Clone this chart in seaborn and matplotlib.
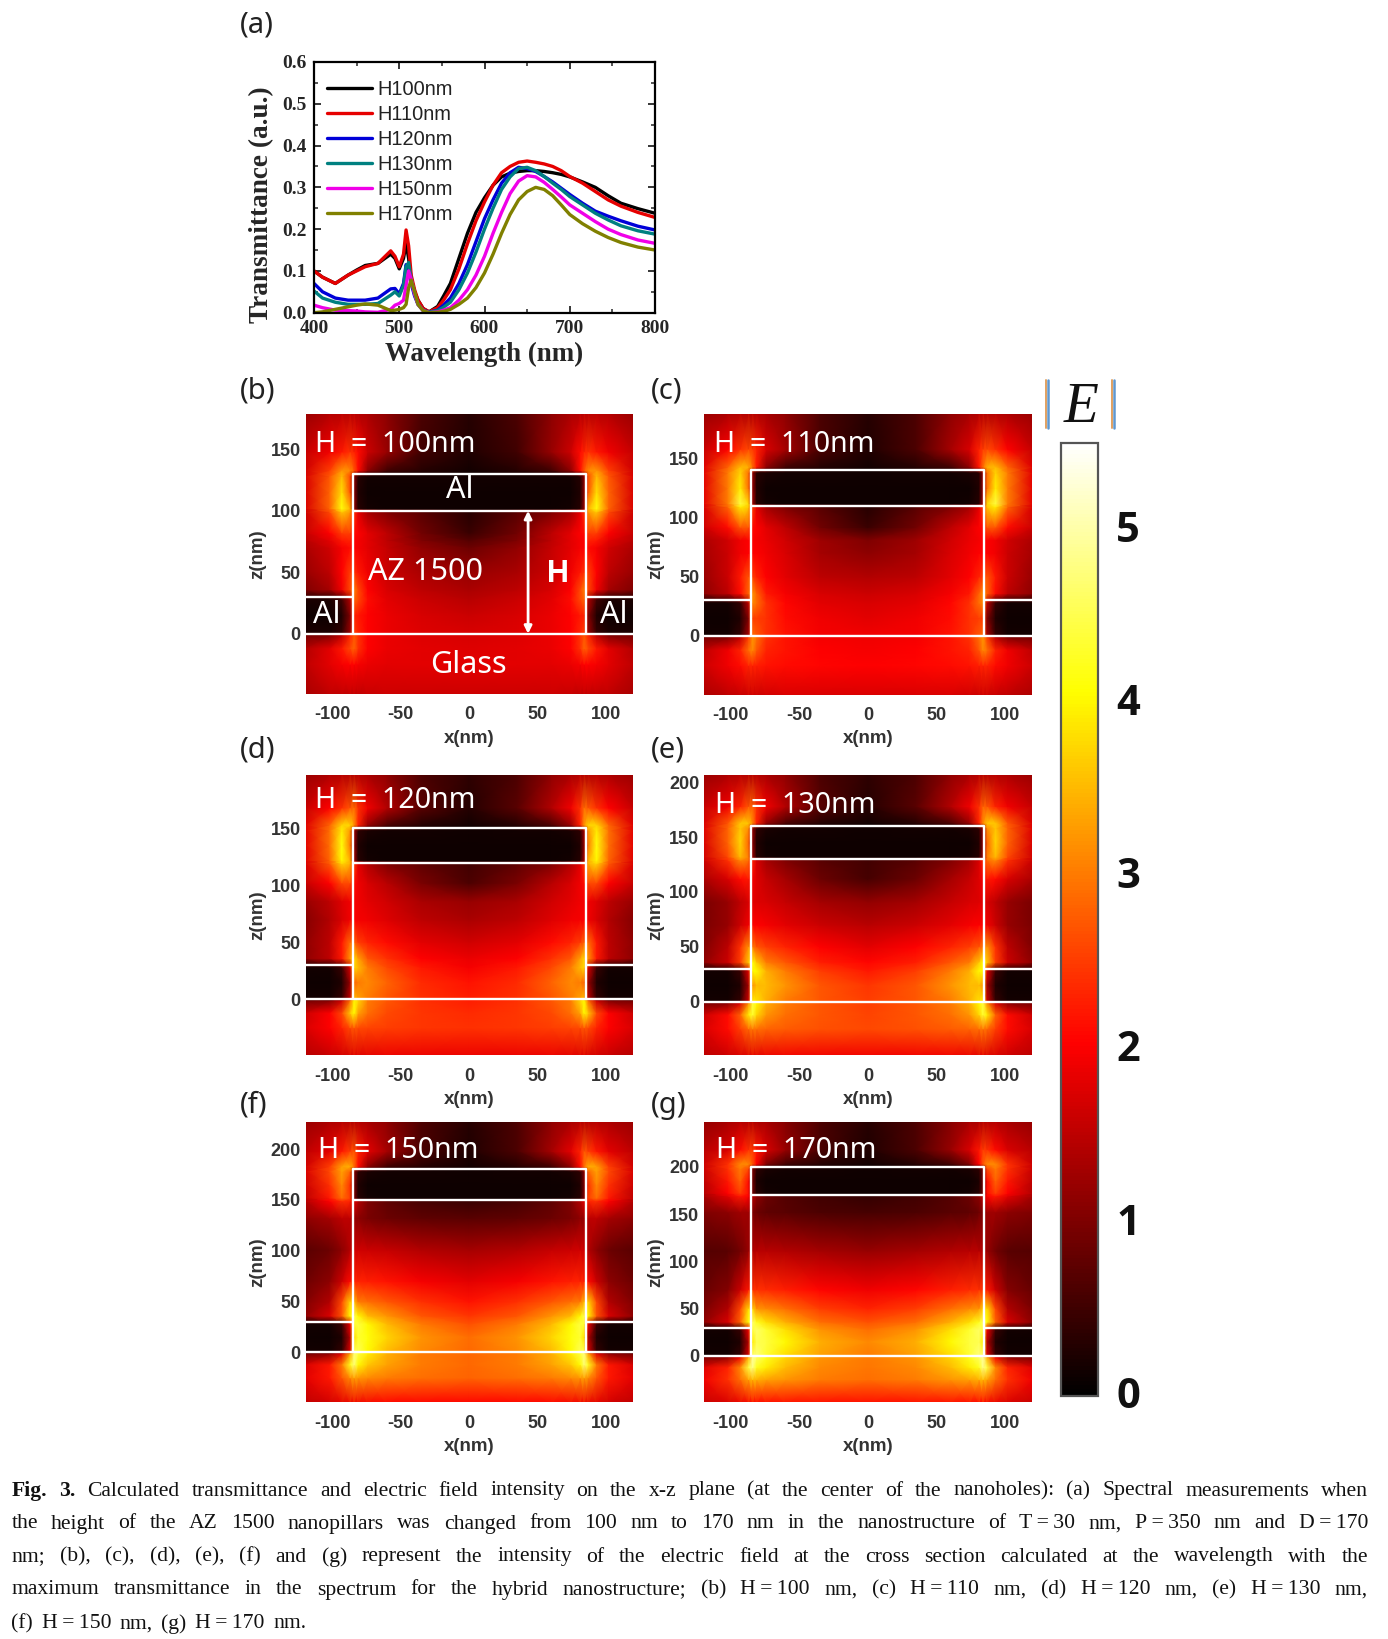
import numpy as np
import pandas as pd
import matplotlib
matplotlib.use("Agg")
import matplotlib.pyplot as plt
from matplotlib.colors import LinearSegmentedColormap, Normalize
from matplotlib.lines import Line2D
from matplotlib.cm import ScalarMappable
import seaborn as sns

W, H_PX = 1388, 1639

# spectra, panel (a)
wavelength = [400, 410, 425, 440, 450, 460, 475, 490, 495, 500, 505, 508, 511, 514, 518, 522, 528, 535, 545, 552,
              560, 570, 580, 590, 600, 610, 620, 630, 640, 650, 660, 670, 680, 690, 700, 715, 730, 745, 760, 780, 800]
h100 = [.10, .085, .07, .09, .102, .113, .118, .14, .13, .105, .13, .165, .13, .08, .05, .03, .01, .002, .015, .04,
        .07, .13, .19, .24, .275, .305, .325, .334, .338, .34, .34, .338, .335, .331, .325, .313, .30, .28, .262, .249, .238]
h110 = [.10, .085, .07, .09, .10, .11, .118, .148, .135, .11, .14, .198, .16, .09, .055, .03, .01, .002, .012, .03,
        .055, .105, .165, .22, .265, .305, .335, .35, .36, .363, .36, .356, .35, .34, .326, .31, .29, .27, .255, .24, .228]
h120 = [.07, .05, .035, .03, .03, .03, .035, .057, .058, .045, .07, .115, .105, .07, .04, .02, .006, .001, .006, .018,
        .035, .07, .115, .17, .225, .27, .31, .335, .348, .345, .338, .326, .313, .298, .283, .262, .243, .231, .22, .207, .198]
h130 = [.052, .035, .025, .02, .02, .02, .022, .042, .05, .04, .065, .11, .12, .08, .045, .02, .005, .001, .005, .013,
        .025, .055, .095, .145, .20, .25, .295, .325, .345, .348, .34, .326, .31, .295, .278, .258, .238, .222, .208, .196, .188]
h150 = [.018, .012, .006, .005, .004, .002, .001, .008, .018, .022, .03, .065, .10, .08, .045, .02, .005, 0, .002, .006,
        .012, .03, .055, .09, .135, .19, .24, .285, .315, .328, .325, .312, .295, .277, .258, .238, .218, .20, .187, .174, .166]
h170 = [0, .002, .008, .014, .018, .021, .018, .005, .006, .008, .012, .02, .06, .078, .05, .02, .005, 0, .001, .003,
        .008, .02, .035, .06, .095, .14, .19, .235, .27, .29, .30, .295, .28, .258, .235, .213, .195, .18, .168, .157, .15]
series_names = ["H100nm", "H110nm", "H120nm", "H130nm", "H150nm", "H170nm"]
series_colors = ["#000000", "#e60000", "#0000d8", "#008080", "#f000e8", "#808000"]

# |E|, at these |x| columns (one half, mirrored when drawn)
x_cols = [0, 35, 60, 74, 81, 84, 87, 93, 102, 120]

field_b = [
    [1.6, 1.6, 1.6, 1.55, 1.5, 1.5, 1.5, 1.5, 1.5, 1.3],
    [1.8, 1.8, 1.8, 1.85, 1.95, 2.0, 2.0, 1.95, 1.8, 1.5],
    [1.75, 1.8, 1.85, 2.0, 2.4, 2.8, 2.6, 2.2, 1.8, 1.4],
    [1.7, 1.75, 1.85, 2.0, 2.4, 2.7, 2.3, 1.5, 1.0, .9],
    [1.7, 1.75, 1.85, 2.0, 2.3, 2.5, 1.2, .4, .2, .2],
    [1.6, 1.7, 1.85, 2.0, 2.2, 2.3, 1.0, .25, .1, .1],
    [1.45, 1.6, 1.8, 2.1, 2.6, 2.8, 1.4, .5, .2, .2],
    [1.35, 1.5, 1.7, 2.0, 2.6, 3.0, 2.6, 1.9, 1.3, 1.0],
    [1.2, 1.35, 1.6, 1.9, 2.2, 2.4, 2.5, 2.0, 1.5, 1.2],
    [.85, 1.15, 1.55, 1.8, 1.95, 2.0, 2.1, 1.95, 1.65, 1.35],
    [.65, 1.0, 1.5, 1.8, 1.95, 2.0, 2.3, 2.2, 1.8, 1.45],
    [.45, .9, 1.5, 1.8, 2.0, 2.1, 2.5, 2.5, 2.0, 1.55],
    [.3, .7, 1.0, 1.3, 1.8, 2.4, 3.2, 3.6, 2.6, 1.6],
    [.1, .1, .1, .15, .3, 1.2, 3.4, 4.1, 2.8, 1.7],
    [.1, .1, .1, .1, .25, 1.1, 2.7, 3.8, 2.8, 1.7],
    [.15, .15, .15, .15, .3, 1.1, 2.6, 3.5, 2.7, 1.7],
    [.15, .3, .5, 1.1, 2.1, 2.7, 3.1, 3.2, 2.5, 1.65],
    [.25, .5, 1.2, 1.6, 2.1, 2.3, 2.4, 2.2, 1.9, 1.55],
    [.3, .6, 1.1, 1.35, 1.4, 1.45, 1.45, 1.45, 1.4, 1.2],
]
field_c = [
    [1.7, 1.7, 1.7, 1.65, 1.6, 1.6, 1.6, 1.55, 1.5, 1.35],
    [2.0, 2.05, 2.1, 2.15, 2.25, 2.3, 2.3, 2.1, 1.9, 1.6],
    [1.95, 2.0, 2.15, 2.3, 2.7, 3.1, 2.9, 2.3, 1.9, 1.5],
    [1.9, 1.95, 2.15, 2.4, 2.9, 3.2, 2.5, 1.5, 1.0, .9],
    [1.9, 1.95, 2.15, 2.4, 2.7, 2.9, 1.3, .4, .15, .15],
    [1.8, 1.9, 2.1, 2.4, 2.5, 2.5, 1.0, .25, .1, .1],
    [1.7, 1.8, 2.05, 2.4, 2.9, 3.1, 1.5, .4, .15, .15],
    [1.6, 1.7, 1.95, 2.2, 2.8, 3.2, 2.8, 2.1, 1.5, 1.1],
    [1.4, 1.5, 1.8, 2.0, 2.3, 2.5, 2.7, 2.2, 1.6, 1.2],
    [1.1, 1.3, 1.7, 1.9, 2.0, 2.0, 2.0, 1.9, 1.6, 1.3],
    [1.0, 1.25, 1.65, 1.85, 1.95, 2.0, 2.0, 1.9, 1.65, 1.35],
    [.45, .9, 1.5, 1.8, 2.0, 2.1, 2.7, 2.7, 2.1, 1.6],
    [.3, .7, 1.0, 1.3, 1.8, 2.5, 3.6, 3.9, 2.8, 1.7],
    [.1, .1, .1, .15, .3, 1.3, 3.7, 4.4, 3.0, 1.8],
    [.1, .1, .1, .1, .25, 1.2, 2.9, 3.9, 3.0, 1.8],
    [.12, .15, .15, .2, .3, 1.2, 2.9, 3.7, 3.0, 1.8],
    [.15, .3, .5, 1.1, 2.2, 2.9, 3.4, 3.5, 2.8, 1.75],
    [.25, .6, 1.3, 1.7, 2.3, 2.5, 2.6, 2.4, 2.0, 1.55],
    [.3, .6, 1.1, 1.3, 1.4, 1.4, 1.4, 1.4, 1.35, 1.2],
]
field_d = [
    [1.85, 1.85, 1.85, 1.8, 1.75, 1.75, 1.7, 1.65, 1.55, 1.4],
    [2.4, 2.45, 2.5, 2.55, 2.6, 2.7, 2.6, 2.3, 2.0, 1.7],
    [2.35, 2.45, 2.6, 2.9, 3.3, 4.0, 3.6, 2.6, 2.0, 1.6],
    [2.25, 2.4, 2.7, 3.0, 3.7, 4.0, 2.9, 1.6, 1.0, .9],
    [2.25, 2.4, 2.7, 3.0, 3.3, 3.5, 1.5, .4, .15, .15],
    [2.15, 2.35, 2.8, 3.1, 3.0, 2.8, 1.2, .25, .1, .1],
    [1.95, 2.2, 2.6, 3.0, 3.5, 3.7, 1.7, .45, .15, .15],
    [1.85, 2.0, 2.4, 2.7, 3.3, 3.7, 3.2, 2.2, 1.5, 1.1],
    [1.65, 1.8, 2.1, 2.3, 2.5, 2.8, 2.9, 2.2, 1.5, 1.1],
    [1.35, 1.5, 1.75, 1.9, 1.95, 2.0, 1.9, 1.7, 1.4, 1.05],
    [1.2, 1.35, 1.65, 1.8, 1.9, 1.95, 1.9, 1.75, 1.5, 1.2],
    [.6, .95, 1.45, 1.7, 1.9, 2.1, 2.6, 2.6, 2.0, 1.55],
    [.5, .75, 1.0, 1.4, 1.8, 2.5, 3.4, 3.7, 2.7, 1.7],
    [.1, .1, .1, .15, .3, 1.3, 3.4, 4.0, 2.8, 1.75],
    [.1, .1, .1, .1, .25, 1.2, 3.0, 4.1, 2.9, 1.8],
    [.12, .15, .15, .2, .35, 1.3, 3.2, 3.9, 2.9, 1.8],
    [.15, .3, .6, 1.2, 2.3, 3.2, 3.7, 3.7, 2.8, 1.75],
    [.3, .7, 1.4, 1.9, 2.4, 2.9, 2.7, 2.4, 2.0, 1.55],
    [.35, .6, 1.1, 1.3, 1.4, 1.4, 1.4, 1.4, 1.35, 1.2],
]
field_e = [
    [1.9, 1.9, 1.9, 1.85, 1.8, 1.8, 1.75, 1.7, 1.6, 1.45],
    [2.6, 2.65, 2.75, 2.8, 2.9, 2.95, 2.85, 2.5, 2.1, 1.7],
    [2.55, 2.7, 2.9, 3.2, 3.7, 4.3, 3.9, 2.8, 2.1, 1.6],
    [2.5, 2.7, 3.0, 3.4, 4.0, 4.4, 3.1, 1.7, 1.05, .9],
    [2.5, 2.7, 3.0, 3.4, 3.8, 3.9, 1.6, .4, .15, .15],
    [2.45, 2.7, 3.2, 3.5, 3.5, 3.2, 1.3, .25, .1, .1],
    [2.2, 2.5, 3.0, 3.4, 4.0, 4.0, 1.8, .45, .15, .15],
    [2.05, 2.25, 2.7, 3.0, 3.6, 4.1, 3.6, 2.5, 1.6, 1.1],
    [1.8, 2.0, 2.3, 2.5, 2.7, 3.0, 3.2, 2.4, 1.5, 1.0],
    [1.45, 1.6, 1.8, 1.95, 2.0, 2.05, 1.9, 1.6, 1.2, .95],
    [1.15, 1.3, 1.55, 1.7, 1.75, 1.8, 1.7, 1.5, 1.2, .95],
    [.55, .85, 1.3, 1.55, 1.75, 1.95, 2.2, 2.1, 1.7, 1.35],
    [.5, .7, 1.0, 1.3, 1.7, 2.3, 2.9, 3.1, 2.4, 1.6],
    [.1, .1, .1, .15, .3, 1.2, 3.0, 3.5, 2.6, 1.65],
    [.1, .1, .1, .1, .25, 1.1, 2.8, 3.7, 2.8, 1.7],
    [.12, .15, .15, .2, .35, 1.2, 3.1, 3.6, 2.8, 1.75],
    [.15, .3, .6, 1.2, 2.3, 3.1, 3.6, 3.6, 2.7, 1.7],
    [.3, .7, 1.4, 1.9, 2.4, 2.8, 2.7, 2.3, 1.9, 1.55],
    [.35, .6, 1.1, 1.3, 1.4, 1.4, 1.4, 1.4, 1.35, 1.2],
]
field_f = [
    [2.0, 2.0, 2.0, 1.95, 1.9, 1.9, 1.85, 1.8, 1.65, 1.5],
    [2.8, 2.9, 3.0, 3.1, 3.2, 3.3, 3.1, 2.7, 2.2, 1.8],
    [2.85, 3.0, 3.3, 3.6, 4.0, 4.7, 4.2, 3.0, 2.2, 1.7],
    [2.85, 3.0, 3.4, 3.9, 4.4, 4.7, 3.3, 1.8, 1.1, .9],
    [2.85, 3.1, 3.5, 4.0, 4.5, 4.5, 1.7, .4, .15, .15],
    [2.9, 3.2, 3.7, 4.1, 4.3, 3.8, 1.4, .25, .1, .1],
    [2.65, 3.0, 3.5, 4.0, 4.4, 4.3, 1.9, .45, .15, .15],
    [2.45, 2.7, 3.2, 3.5, 4.0, 4.5, 4.0, 2.7, 1.7, 1.1],
    [2.15, 2.4, 2.7, 2.9, 3.0, 3.5, 3.7, 2.6, 1.4, 1.0],
    [1.8, 1.95, 2.15, 2.25, 2.3, 2.3, 2.1, 1.6, 1.1, .85],
    [1.3, 1.4, 1.55, 1.6, 1.65, 1.65, 1.4, 1.1, .85, .7],
    [.7, .75, .85, .95, 1.1, 1.2, 1.5, 1.5, 1.3, 1.1],
    [.45, .55, .75, 1.0, 1.4, 1.8, 2.3, 2.4, 2.0, 1.4],
    [.1, .1, .1, .15, .3, 1.0, 2.5, 2.9, 2.2, 1.5],
    [.1, .1, .1, .1, .25, 1.0, 2.4, 3.1, 2.4, 1.6],
    [.12, .15, .15, .2, .35, 1.1, 2.8, 3.3, 2.6, 1.7],
    [.15, .3, .5, 1.1, 2.1, 2.9, 3.4, 3.3, 2.5, 1.65],
    [.25, .6, 1.3, 1.8, 2.3, 2.7, 2.5, 2.2, 1.8, 1.5],
    [.3, .6, 1.1, 1.3, 1.4, 1.4, 1.4, 1.4, 1.35, 1.2],
]
field_g = [
    [2.1, 2.1, 2.1, 2.05, 2.0, 2.0, 1.95, 1.85, 1.7, 1.55],
    [2.9, 3.0, 3.2, 3.3, 3.4, 3.5, 3.3, 2.9, 2.4, 1.9],
    [2.95, 3.1, 3.5, 3.9, 4.2, 4.8, 4.4, 3.1, 2.3, 1.75],
    [3.0, 3.2, 3.7, 4.2, 4.6, 4.9, 3.4, 1.9, 1.1, .9],
    [3.0, 3.3, 3.8, 4.3, 4.7, 4.6, 1.7, .4, .15, .15],
    [3.1, 3.4, 4.0, 4.4, 4.5, 3.9, 1.4, .25, .1, .1],
    [2.9, 3.2, 3.8, 4.3, 4.6, 4.4, 1.9, .45, .15, .15],
    [2.65, 2.9, 3.4, 3.8, 4.2, 4.6, 4.1, 2.8, 1.7, 1.1],
    [2.3, 2.5, 2.9, 3.1, 3.2, 3.7, 3.8, 2.6, 1.4, .95],
    [1.9, 2.05, 2.25, 2.35, 2.4, 2.4, 2.2, 1.6, 1.05, .8],
    [1.2, 1.3, 1.4, 1.45, 1.45, 1.4, 1.2, .9, .7, .65],
    [.55, .6, .7, .75, .85, 1.0, 1.25, 1.25, 1.1, 1.0],
    [.4, .5, .65, .85, 1.1, 1.5, 2.0, 2.2, 1.8, 1.3],
    [.1, .1, .1, .15, .3, .9, 2.1, 2.5, 2.0, 1.4],
    [.1, .1, .1, .1, .2, .9, 2.1, 2.8, 2.2, 1.5],
    [.12, .15, .15, .2, .35, 1.0, 2.6, 3.0, 2.4, 1.6],
    [.15, .3, .5, 1.0, 2.0, 2.7, 3.1, 3.1, 2.4, 1.6],
    [.25, .6, 1.2, 1.7, 2.2, 2.5, 2.4, 2.1, 1.7, 1.45],
    [.3, .6, 1.05, 1.3, 1.35, 1.4, 1.4, 1.4, 1.3, 1.15],
]

caption_lines = [
    "Calculated transmittance and electric field intensity on the x-z plane (at the center of the nanoholes): (a) Spectral measurements when",
    "the height of the AZ 1500 nanopillars was changed from 100 nm to 170 nm in the nanostructure of T\u2009=\u200930 nm, P\u2009=\u2009350 nm and D\u2009=\u2009170",
    "nm; (b), (c), (d), (e), (f) and (g) represent the intensity of the electric field at the cross section calculated at the wavelength with the",
    "maximum transmittance in the spectrum for the hybrid nanostructure; (b) H\u2009=\u2009100 nm, (c) H\u2009=\u2009110 nm, (d) H\u2009=\u2009120 nm, (e) H\u2009=\u2009130 nm,",
    "(f) H\u2009=\u2009150 nm, (g) H\u2009=\u2009170 nm.",
]

sns.set_theme(style="white")
plt.rcParams["font.family"] = ["Liberation Sans", "DejaVu Sans"]
plt.rcParams["axes.unicode_minus"] = False

fig = plt.figure(figsize=(W / 100, H_PX / 100), dpi=100)
field_cmap = LinearSegmentedColormap.from_list(
    "field", [(0, "#000000"), (0.37, "#ff0000"), (0.74, "#ffff00"), (1, "#ffffff")])
field_norm = Normalize(vmin=-0.02, vmax=5.48)


def axes_px(left, top, right, bottom):
    return fig.add_axes([left / W, 1 - bottom / H_PX, (right - left) / W, (bottom - top) / H_PX])


def text_px(x, y, s, **kw):
    kw.setdefault("va", "center")
    return fig.text(x / W, 1 - y / H_PX, s, **kw)


# Transmittance spectra
def plot_spectra():
    ax = axes_px(314, 62, 655, 312.7)
    frames = []
    for name, vals in zip(series_names, [h100, h110, h120, h130, h150, h170]):
        frames.append(pd.DataFrame({"wl": wavelength, "T": vals, "height": name}))
    df = pd.concat(frames)
    sns.lineplot(data=df, x="wl", y="T", hue="height", palette=series_colors,
                 linewidth=2.4, ax=ax, errorbar=None)
    ax.set_xlim(400, 800)
    ax.set_ylim(0, 0.6)
    ax.set_xticks([400, 500, 600, 700, 800])
    ax.set_xticks([450, 550, 650, 750], minor=True)
    ax.set_yticks(np.arange(0, 0.61, 0.1))
    ax.set_yticks(np.arange(0.05, 0.6, 0.1), minor=True)
    ax.tick_params(which="major", direction="in", length=5, width=1.3, top=True, right=True,
                   bottom=True, left=True, labelsize=14, pad=5)
    ax.tick_params(which="minor", direction="in", length=3, width=1.1, top=True, right=True,
                   bottom=True, left=True)
    for lab in ax.get_xticklabels() + ax.get_yticklabels():
        lab.set_family("Liberation Serif")
        lab.set_fontweight("bold")
    for spine in ax.spines.values():
        spine.set_visible(True)
        spine.set_color("black")
        spine.set_linewidth(1.6)
    ax.set_xlabel("")
    ax.set_ylabel("")
    text_px(484, 354, "Wavelength (nm)", family="Liberation Serif", weight="bold", size=19.4, ha="center")
    text_px(262, 205, "Transmittance (a.u.)", family="Liberation Serif", weight="bold", size=19.6,
            ha="center", rotation=90)
    ax.legend(loc="upper left", bbox_to_anchor=(0.025, 0.943), frameon=False, fontsize=14.4,
              handlelength=2.25, handletextpad=0.28, labelspacing=0.3, borderpad=0.2, borderaxespad=0,
              labelcolor="#222222")


# One field map with the outline of the nanostructure
def plot_field(field, height, rect, zlim, zticks, title_xy):
    ax = axes_px(*rect)
    table = np.array(field)
    mirrored = np.hstack([table[:, :0:-1], table])
    x = np.array(x_cols, dtype=float)
    x = np.concatenate([-x[:0:-1], x])
    z = [-51, -25, -12, -1, 1, 15, 28, 36, 50, 70, (52 + height) / 2, height - 18, height - 1,
         height + 2, height + 15, height + 28, height + 33, height + 48, zlim[1] + 1]
    ax.pcolormesh(x, z, mirrored, cmap=field_cmap, norm=field_norm, shading="gouraud", rasterized=True)
    ax.set_xlim(-119.4, 119.4)
    ax.set_ylim(*zlim)

    # white outline of the Al parts and the pillar
    white = dict(color="white", lw=1.7, solid_capstyle="butt")
    ax.plot([-120, 120], [0, 0], **white)
    ax.plot([-85, -85, 85, 85], [0, height + 30, height + 30, 0], **white)
    ax.plot([-85, 85], [height, height], **white)
    ax.plot([-120, -85], [30, 30], **white)
    ax.plot([85, 120], [30, 30], **white)

    for spine in ax.spines.values():
        spine.set_visible(False)
    ax.set_xticks([-100, -50, 0, 50, 100])
    ax.set_yticks(zticks)
    ax.tick_params(length=0, labelsize=13, labelcolor="#333333", pad=3.5)
    ax.tick_params(axis="x", pad=9)
    for lab in ax.get_xticklabels() + ax.get_yticklabels():
        lab.set_fontweight("bold")
    ax.set_xlabel("x(nm)", fontsize=13.5, fontweight="bold", color="#333333")
    ax.set_ylabel("z(nm)", fontsize=13.5, fontweight="bold", color="#333333")
    ax.xaxis.set_label_coords(0.5, -0.127)
    ax.yaxis.set_label_coords(-0.12, 0.5)
    text_px(title_xy[0], title_xy[1], "H  =  %dnm" % height, color="white", family="Noto Sans",
            size=20.6, ha="left")
    return ax


def plot_field_panels():
    left = (305.7, 632.7)
    right = (704, 1031.7)
    ax = plot_field(field_b, 100, (left[0], 413.7, left[1], 694), (-49, 179), [0, 50, 100, 150], (315, 444))
    plot_field(field_c, 110, (right[0], 413.7, right[1], 694.7), (-49.7, 188), [0, 50, 100, 150], (714, 444))
    plot_field(field_d, 120, (left[0], 774.7, left[1], 1055.3), (-49, 197), [0, 50, 100, 150], (315, 801))
    plot_field(field_e, 130, (right[0], 774.7, right[1], 1055.3), (-49, 207), [0, 50, 100, 150, 200], (715, 805))
    plot_field(field_f, 150, (left[0], 1121.7, left[1], 1402.3), (-49, 227), [0, 50, 100, 150, 200], (318, 1151))
    plot_field(field_g, 170, (right[0], 1121.7, right[1], 1402.3), (-49, 247.6), [0, 50, 100, 150, 200], (716, 1150))

    # labels on the first map
    ax.annotate("", xy=(43, 100), xytext=(43, 0),
                arrowprops=dict(arrowstyle="<|-|>", color="white", lw=2, mutation_scale=11, shrinkA=0, shrinkB=0))
    for x, y, s in [(460, 490, "Al"), (327, 615, "Al"), (614, 615, "Al"), (468, 665, "Glass")]:
        text_px(x, y, s, color="white", family="Noto Sans", size=22, ha="center")
    text_px(368, 572, "AZ 1500", color="white", family="Noto Sans", size=22, ha="left")
    text_px(558, 574, "H", color="white", family="Liberation Sans", weight="bold", size=22, ha="center")

    for x, y, s in [(240, 25, "(a)"), (240, 391, "(b)"), (651, 391, "(c)"), (240, 750, "(d)"),
                    (651, 750, "(e)"), (240, 1105, "(f)"), (651, 1105, "(g)")]:
        text_px(x, y, s, color="#222222", family="Noto Sans", size=21, ha="left")


# Shared colour scale
def plot_colorbar():
    cax = axes_px(1061, 443, 1098, 1396)
    cbar = fig.colorbar(ScalarMappable(norm=field_norm, cmap=field_cmap), cax=cax, ticks=[0, 1, 2, 3, 4, 5])
    cbar.outline.set_edgecolor("#555555")
    cbar.outline.set_linewidth(1.6)
    cbar.ax.tick_params(direction="in", length=6, width=1.3, color="#444444", labelsize=30, pad=13)
    for lab in cbar.ax.get_yticklabels():
        lab.set_family("Open Sans")
        lab.set_fontweight("bold")
        lab.set_color("#111111")
    text_px(1081, 408, "E", family="Liberation Serif", style="italic", size=41, ha="center", color="#111111")
    for x in (1047, 1113):
        fig.add_artist(Line2D([(x - 1.5) / W] * 2, [1 - 380 / H_PX, 1 - 428 / H_PX], color="#e0a060", lw=1.4))
        fig.add_artist(Line2D([(x + 0.5) / W] * 2, [1 - 380 / H_PX, 1 - 428 / H_PX], color="#5f97cf", lw=1.8))


# Justified caption, word by word
def draw_caption():
    renderer = fig.canvas.get_renderer()
    x0, x1 = 11.5, 1368
    ys = [1491, 1524, 1557, 1590, 1624]
    style = dict(family="Liberation Serif", size=15.6, color="#111111", ha="left")
    for i, (line, y) in enumerate(zip(caption_lines, ys)):
        words = [(w, "normal") for w in line.split(" ")]
        if i == 0:
            words = [("Fig.", "bold"), ("3.", "bold")] + words
        texts = [text_px(x0, y, w, weight=wt, **style) for w, wt in words]
        widths = [t.get_window_extent(renderer).width for t in texts]
        gap = (x1 - x0 - sum(widths)) / (len(words) - 1) if i < 4 else 8.5
        x = x0
        for t, width in zip(texts, widths):
            t.set_x(x / W)
            x += width + gap


plot_spectra()
plot_field_panels()
plot_colorbar()
draw_caption()
fig.savefig("out.png", dpi=100, facecolor="white")
plt.close(fig)
